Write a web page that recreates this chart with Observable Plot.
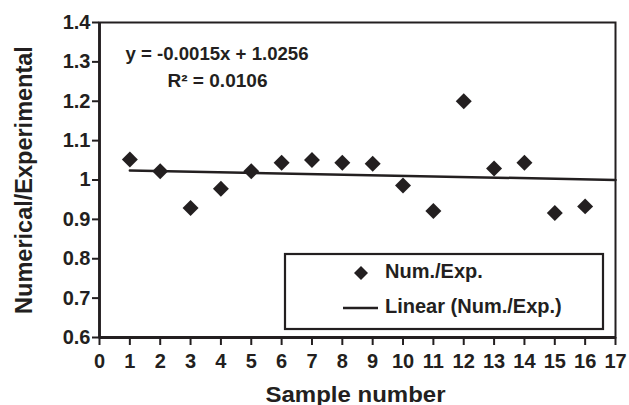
<!DOCTYPE html>
<html><head><meta charset="utf-8">
<script src="https://cdn.jsdelivr.net/npm/d3@7"></script>
<script src="https://cdn.jsdelivr.net/npm/@observablehq/plot@0.6"></script>
<style>
body{margin:0;background:#fff;}
#chart{position:relative;width:629px;height:405px;}
</style></head><body><div id="chart"></div>
<script>
const samples = [1, 2, 3, 4, 5, 6, 7, 8, 9, 10, 11, 12, 13, 14, 15, 16];
const ratios = [1.052, 1.022, 0.929, 0.978, 1.022, 1.044, 1.051, 1.044, 1.041, 0.986, 0.921, 1.200, 1.029, 1.044, 0.916, 0.933];
const xTicks = [0, 1, 2, 3, 4, 5, 6, 7, 8, 9, 10, 11, 12, 13, 14, 15, 16, 17];
const yTicks = [0.6, 0.7, 0.8, 0.9, 1.0, 1.1, 1.2, 1.3, 1.4];
const yTickLabels = ["0.6", "0.7", "0.8", "0.9", "1", "1.1", "1.2", "1.3", "1.4"];
const trendSlope = -0.0015;
const trendIntercept = 1.0256;
const trendX = [1, 17];
const equationLines = ["y = -0.0015x + 1.0256", "R² = 0.0106"];
const legendLabels = ["Num./Exp.", "Linear (Num./Exp.)"];
const xTitle = "Sample number";
const yTitle = "Numerical/Experimental";

const ink = "#231f20";
const font = "'Liberation Sans', Arial, Helvetica, sans-serif";
const points = samples.map((s, i) => ({sample: s, ratio: ratios[i]}));
const trend = trendX.map(x => ({sample: x, ratio: trendSlope * x + trendIntercept}));
const yLabelMap = new Map(yTicks.map((t, i) => [t, yTickLabels[i]]));

const plot = Plot.plot({
  width: 629, height: 405,
  marginLeft: 99, marginRight: 14, marginTop: 22, marginBottom: 68,
  style: {fontFamily: font, fontWeight: "bold", fontSize: "20px", color: ink, background: "#fff", overflow: "visible"},
  x: {domain: [0, 17]},
  y: {domain: [0.6, 1.4]},
  marks: [
    Plot.frame({stroke: ink, strokeWidth: 2}),
    Plot.axisY({ticks: yTicks, tickFormat: d => yLabelMap.get(d) ?? String(d), tickSize: 7, tickPadding: 2, label: null, stroke: ink, strokeWidth: 2, fill: ink, fontSize: 20}),
    Plot.axisX({ticks: xTicks, tickFormat: d => String(d), tickSize: 8, tickPadding: 8, label: null, stroke: ink, strokeWidth: 2, fill: ink, fontSize: 20}),
    Plot.ruleX([0], {stroke: ink, strokeWidth: 2.8}),
    Plot.ruleY([0.6], {stroke: ink, strokeWidth: 2.8}),
    Plot.line(trend, {x: "sample", y: "ratio", stroke: ink, strokeWidth: 2.5}),
    Plot.dot(points, {x: "sample", y: "ratio", symbol: "diamond2", r: 7.2, fill: ink, stroke: "none"}),
    Plot.text([equationLines[0]], {text: d => d, frameAnchor: "top-left", dx: 117.5, dy: 37.5, lineAnchor: "bottom", textAnchor: "middle", fontSize: 18, fill: ink}),
    Plot.text([equationLines[1]], {text: d => d, frameAnchor: "top-left", dx: 118, dy: 64, lineAnchor: "bottom", textAnchor: "middle", fontSize: 18, fill: ink}),
    Plot.text([xTitle], {text: d => d, frameAnchor: "bottom", dx: -2, dy: 64, lineAnchor: "bottom", textAnchor: "middle", fontSize: 22, fill: ink}),
    Plot.text([yTitle], {text: d => d, frameAnchor: "left", dx: -68, rotate: -90, lineAnchor: "bottom", textAnchor: "middle", fontSize: 23.5, fill: ink})
  ]
});

const svg = d3.select(plot);
const fits = new Map([[xTitle, 180], [equationLines[0], 183], [equationLines[1], 100]]);
svg.selectAll("text").each(function() {
  const t = this.textContent;
  if (fits.has(t)) {
    d3.select(this).attr("textLength", fits.get(t)).attr("lengthAdjust", "spacingAndGlyphs");
  }
});

// legend
const lg = svg.append("g").attr("font-family", font).attr("font-weight", "bold").attr("font-size", 20)
  .attr("fill", ink).attr("text-anchor", "start");
lg.append("rect").attr("x", 285).attr("y", 254).attr("width", 318).attr("height", 75)
  .attr("fill", "#fff").attr("stroke", ink).attr("stroke-width", 2.2);
lg.append("path").attr("transform", "translate(361,273)")
  .attr("d", d3.symbol(d3.symbolDiamond2, 125)()).attr("fill", ink);
lg.append("line").attr("x1", 343).attr("x2", 378).attr("y1", 308).attr("y2", 308)
  .attr("stroke", ink).attr("stroke-width", 2.5);
lg.append("text").attr("x", 385).attr("y", 278).attr("text-anchor", "start").text(legendLabels[0]);
lg.append("text").attr("x", 385).attr("y", 313).attr("text-anchor", "start").text(legendLabels[1]);

document.getElementById("chart").appendChild(plot);
</script></body></html>
